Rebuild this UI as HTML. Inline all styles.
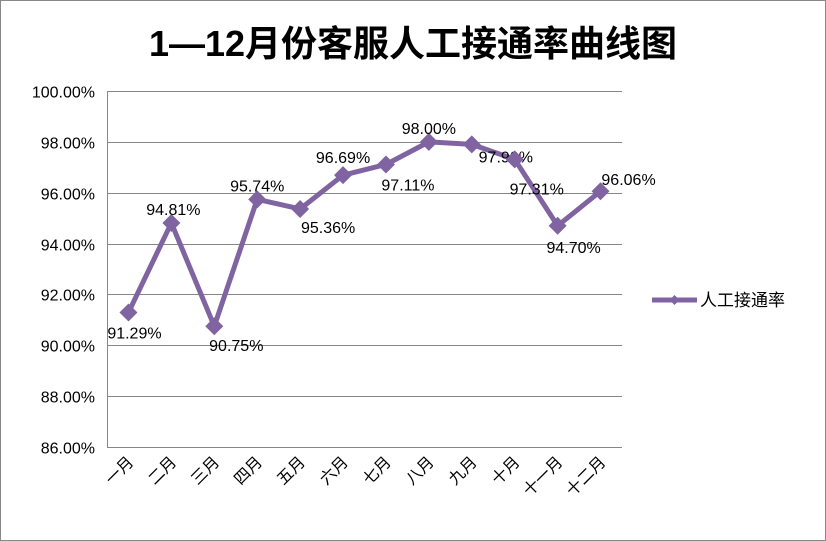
<!DOCTYPE html>
<html><head><meta charset="utf-8"><style>
body{margin:0;background:#fff}
svg{display:block;font-family:"Liberation Sans","Noto Sans CJK SC",sans-serif}
</style></head><body>
<svg id="chart" width="826" height="541" viewBox="0 0 826 541">
<rect x="0.5" y="0.5" width="825" height="540" fill="#fff" stroke="#888"/>
<text x="413" y="56" text-anchor="middle" font-size="36" font-weight="bold" fill="#000">1—12月份客服人工接通率曲线图</text>
<g id="grid"></g><g id="axes"></g><g id="series"></g>
<g>
<line x1="652" y1="300" x2="697" y2="300" stroke="#8064A2" stroke-width="5"/>
<path d="M674.5 295 L679.5 300 L674.5 305 L669.5 300Z" fill="#8064A2"/>
<text x="700" y="306" font-size="17" fill="#000">人工接通率</text>
</g>
</svg>
<script>
const categories=["一月","二月","三月","四月","五月","六月","七月","八月","九月","十月","十一月","十二月"];
const values=[91.29,94.81,90.75,95.74,95.36,96.69,97.11,98.00,97.90,97.31,94.70,96.06];
const yTicks=[86,88,90,92,94,96,98,100];
const labelOffsets=[[6,20],[2,-14],[22,19],[0,-14],[28,18],[0,-18],[22,20],[0,-14],[34,12],[22,29],[16,21],[28,-12]];
const NS="http://www.w3.org/2000/svg";
const X0=107,X1=622,Y0=447,Y1=91,YMIN=86,YMAX=100;
const xs=i=>X0+(X1-X0)/categories.length*(i+0.5);
const ys=v=>Y0-(v-YMIN)/(YMAX-YMIN)*(Y0-Y1);
function mk(t,a,p){const e=document.createElementNS(NS,t);for(const k in a)e.setAttribute(k,a[k]);p.appendChild(e);return e;}
const grid=document.getElementById('grid'),axes=document.getElementById('axes'),ser=document.getElementById('series');
yTicks.forEach(t=>{
 const y=Math.round(ys(t))+0.5;
 const l=mk('line',{x1:X0,x2:X1,y1:y,y2:y,stroke:'#868686','stroke-width':1},grid);
 
 
 const tx=mk('text',{x:X0-12,y:y+6,'text-anchor':'end','font-size':16,fill:'#000'},axes);
 tx.textContent=t.toFixed(2)+'%';
 
 
});
const ax=mk('line',{x1:X0+0.5,x2:X0+0.5,y1:Y1,y2:Y0,stroke:'#868686'},axes);


categories.forEach((c,i)=>{
 const x=xs(i);
 const t=mk('text',{x:x+6,y:Y0+16,'text-anchor':'end','font-size':16,fill:'#000',transform:`rotate(-45 ${x+6} ${Y0+16})`},axes);
 t.textContent=c;
 
 
});
const pts=values.map((v,i)=>xs(i)+','+ys(v)).join(' ');
const pl=mk('polyline',{points:pts,fill:'none',stroke:'#8064A2','stroke-width':5,'stroke-linejoin':'round'},ser);


values.forEach((v,i)=>{
 const x=xs(i),y=ys(v);
 const m=mk('path',{d:`M${x} ${y-9}L${x+9} ${y}L${x} ${y+9}L${x-9} ${y}Z`,fill:'#8064A2'},ser);
 
 
 const o=labelOffsets[i];
 const t=mk('text',{x:x+o[0],y:y+o[1]+6,'text-anchor':'middle','font-size':16,fill:'#000'},ser);
 t.textContent=v.toFixed(2)+'%';
 
 
});
</script>
</body></html>
